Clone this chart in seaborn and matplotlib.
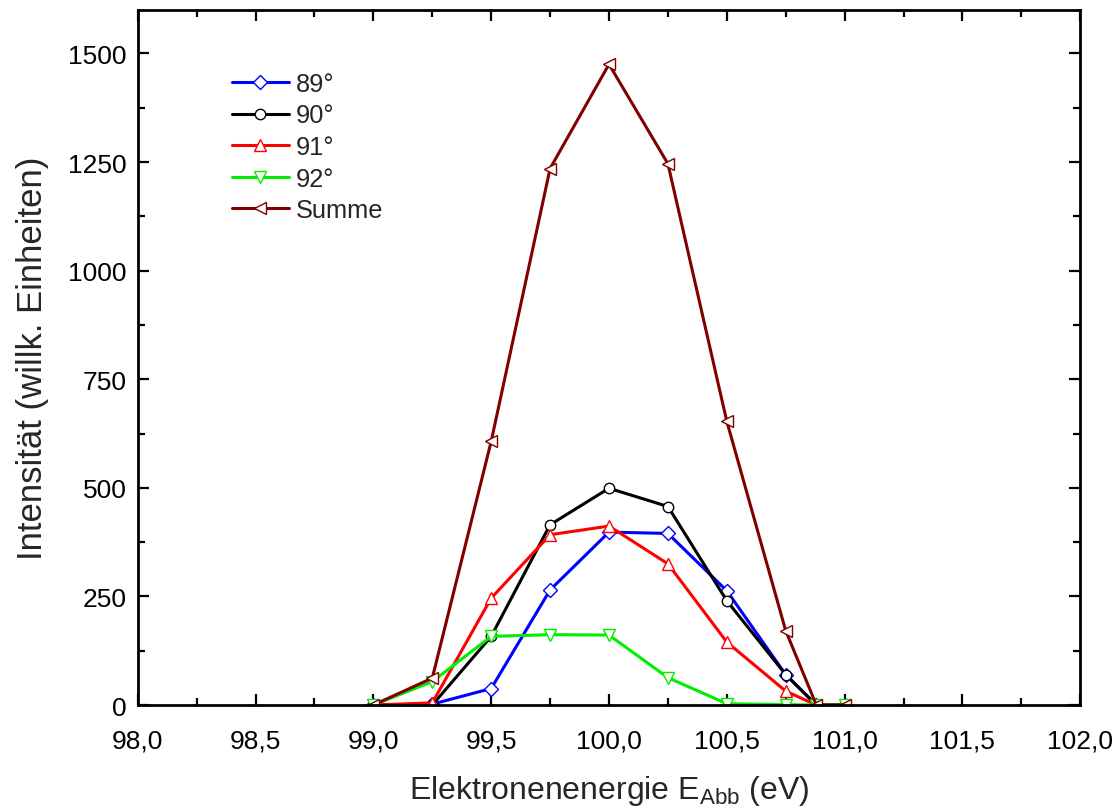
import matplotlib
matplotlib.use("Agg")
import matplotlib.pyplot as plt
from matplotlib.ticker import MultipleLocator, FuncFormatter
import seaborn as sns
import pandas as pd

# Electron energy (eV) at which the intensities were recorded
energy = [99.0, 99.25, 99.5, 99.75, 100.0, 100.25, 100.5, 100.75, 100.88, 101.0]

# Intensity per detection angle (arbitrary units)
i_89 = [0, 2, 38, 265, 398, 395, 263, 70, 0, 0]
i_90 = [0, 0, 158, 415, 499, 457, 240, 70, 0, 0]
i_91 = [0, 5, 246, 392, 412, 325, 145, 32, 0, 0]
i_92 = [0, 54, 158, 162, 161, 63, 3, 1, 0, 0]
i_sum = [0, 62, 607, 1235, 1475, 1246, 653, 171, 0, 0]

labels = ["89°", "90°", "91°", "92°", "Summe"]
series = [i_89, i_90, i_91, i_92, i_sum]
colors = ["#0000ff", "#000000", "#ff0000", "#00ee00", "#800000"]
markers = ["D", "o", "^", "v", "<"]
msizes = [7, 7.5, 8.5, 8.5, 8.5]

sns.set_theme(style="white")
plt.rcParams["font.family"] = ["Liberation Sans", "DejaVu Sans"]
plt.rcParams["mathtext.fontset"] = "custom"
plt.rcParams["mathtext.rm"] = "Liberation Sans"

fig = plt.figure(figsize=(11.2, 8.12), dpi=100)
ax = fig.add_axes([0.123, 0.1305, 0.8415, 0.856])

for lab, vals, col, mk, ms in zip(labels, series, colors, markers, msizes):
    df = pd.DataFrame({"E": energy, "I": vals})
    sns.lineplot(data=df, x="E", y="I", ax=ax, color=col, linewidth=2.2,
                 marker=mk, markersize=ms, markerfacecolor="white",
                 markeredgecolor=col, markeredgewidth=1.0, label=lab,
                 estimator=None, sort=False)

ax.set_xlim(98, 102)
ax.set_ylim(0, 1600)
ax.xaxis.set_major_locator(MultipleLocator(0.5))
ax.xaxis.set_minor_locator(MultipleLocator(0.25))
ax.yaxis.set_major_locator(MultipleLocator(250))
ax.yaxis.set_minor_locator(MultipleLocator(125))
ax.xaxis.set_major_formatter(FuncFormatter(lambda v, p: f"{v:.1f}".replace(".", ",")))
ax.yaxis.set_major_formatter(FuncFormatter(lambda v, p: f"{v:.0f}" if v <= 1500 else ""))

ax.tick_params(which="both", direction="in", top=True, right=True,
               bottom=True, left=True, width=1.6, color="black",
               labelsize=19, labelcolor="black")
ax.tick_params(axis="x", which="major", pad=17)
ax.tick_params(axis="y", which="major", pad=8)
ax.tick_params(which="major", length=8)
ax.tick_params(which="minor", length=5)
for sp in ax.spines.values():
    sp.set_linewidth(2.0)
    sp.set_color("black")

ax.set_xlabel("Elektronenenergie E$_{\\mathrm{Abb}}$ (eV)", fontsize=23, labelpad=15)
ax.set_ylabel("Intensität (willk. Einheiten)", fontsize=25, labelpad=14)

ax.legend(loc="upper left", bbox_to_anchor=(0.0998, 0.911), frameon=False,
          fontsize=18.3, borderpad=0, borderaxespad=0, handlelength=2.25,
          handletextpad=0.28, labelspacing=0.3)

fig.savefig("out.png", dpi=100)
